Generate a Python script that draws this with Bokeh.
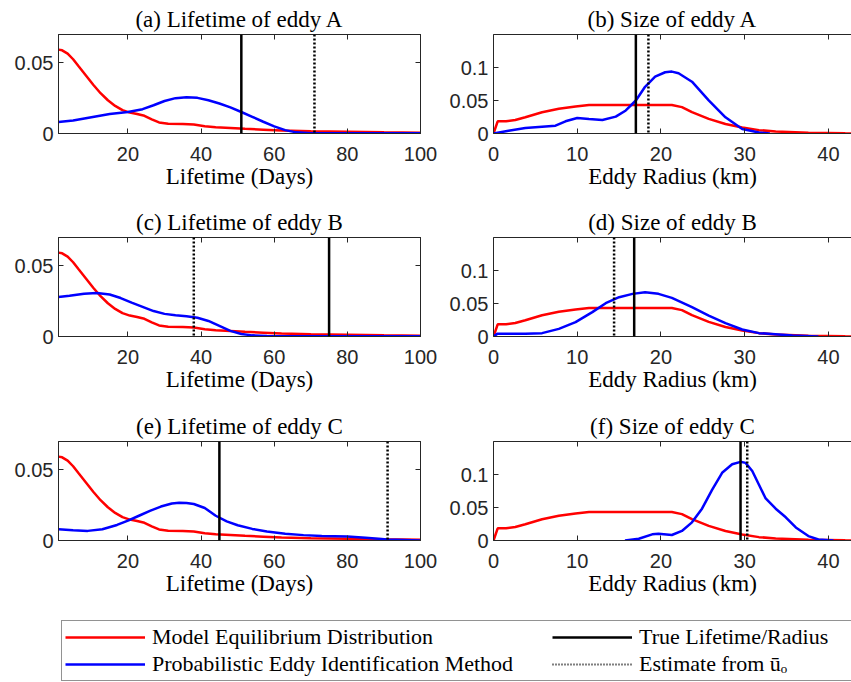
import numpy as np
from bokeh.plotting import figure
from bokeh.layouts import column, row
from bokeh.models import (Range1d, LinearAxis, FixedTicker, Legend, LegendItem,
                          Span, NumeralTickFormatter)
from bokeh.embed import file_html
from bokeh.resources import INLINE

# ---------------- data ----------------
# Model equilibrium distribution of lifetime (same in a, c, e)
model_life_days = [1, 2, 3.5, 5, 6.5, 8.5, 10.5, 12.5, 14.5, 16.5, 18.5, 20.5, 22.5, 24.5,
                   26.5, 28.5, 31, 35, 38, 41, 44, 48, 52, 57, 62, 70, 80, 90, 100]
model_life_pdf = [0.0593, 0.0588, 0.0565, 0.0525, 0.0475, 0.0410, 0.0345, 0.0285, 0.0235,
                  0.0195, 0.0165, 0.0148, 0.0138, 0.0125, 0.0100, 0.0078, 0.0069, 0.0067,
                  0.0063, 0.0052, 0.0045, 0.0039, 0.0033, 0.0027, 0.0021, 0.0016, 0.0012,
                  0.0008, 0.0005]

# Probabilistic eddy identification: lifetime
pei_life_A_days = [1, 5, 10, 15, 20, 24, 27, 30, 33, 36, 39, 42, 45, 48, 51, 54, 57, 60, 63,
                   66, 70, 80, 100]
pei_life_A_pdf = [0.0081, 0.0092, 0.0115, 0.0138, 0.0152, 0.0172, 0.0200, 0.0230, 0.0250,
                  0.0257, 0.0252, 0.0235, 0.0212, 0.0185, 0.0152, 0.0118, 0.0083, 0.0050,
                  0.0024, 0.0008, 0.0002, 0.0001, 0.0001]
pei_life_B_days = [1, 4, 8, 11.5, 15, 18, 21, 24, 27, 30, 33, 36, 39, 42, 45, 48, 51, 54, 58,
                   65, 100]
pei_life_B_pdf = [0.0279, 0.0288, 0.0302, 0.0307, 0.0297, 0.0272, 0.0240, 0.0210, 0.0180,
                  0.0160, 0.0150, 0.0143, 0.0133, 0.0110, 0.0075, 0.0040, 0.0018, 0.0008,
                  0.0004, 0.0002, 0.0002]
pei_life_C_days = [1, 5, 9, 13, 17, 20, 23, 26, 29, 32, 34, 36, 38, 41, 44, 47, 50, 54, 58,
                   63, 68, 73, 80, 85, 91, 100]
pei_life_C_pdf = [0.0079, 0.0072, 0.0068, 0.0080, 0.0110, 0.0140, 0.0175, 0.0210, 0.0240,
                  0.0262, 0.0267, 0.0265, 0.0258, 0.0230, 0.0175, 0.0135, 0.0108, 0.0082,
                  0.0063, 0.0048, 0.0038, 0.0032, 0.0029, 0.0019, 0.0007, 0.0]

# Model equilibrium distribution of radius (same in b, d, f)
model_rad_km = [0, 0.5, 1.5, 2.6, 3.8, 5.8, 7.8, 9.8, 11.4, 13, 16, 19, 21.3, 22.5, 23.7,
                25.7, 27.7, 29.7, 31.7, 33.7, 37.6, 42, 45]
model_rad_pdf = [0, 0.0185, 0.0185, 0.0205, 0.0246, 0.0323, 0.0374, 0.0410, 0.0431, 0.0432,
                 0.0432, 0.0432, 0.0431, 0.0400, 0.0323, 0.0221, 0.0144, 0.0092, 0.0051,
                 0.0031, 0.0010, 0.0002, 0]

# Probabilistic eddy identification: radius
pei_rad_A_km = [0, 1.8, 3.8, 5.8, 7.4, 8.6, 10, 11.4, 13, 14.6, 15.8, 17, 18.1, 19.3, 20.5,
                21.3, 22.1, 23.7, 25.7, 27.7, 29.7, 31.7, 33]
pei_rad_A_pdf = [0, 0.0041, 0.0082, 0.0103, 0.0118, 0.0185, 0.0236, 0.0221, 0.0205, 0.0256,
                 0.0349, 0.0500, 0.0708, 0.0862, 0.0928, 0.0938, 0.0913, 0.0785, 0.0503,
                 0.0246, 0.0067, 0.0015, 0]
pei_rad_B_km = [0, 0.44, 2.2, 3.8, 5.8, 7.8, 9.8, 11.8, 13.4, 15, 16.6, 18.1, 19.7, 21.3,
                23.7, 25.7, 27.7, 29.7, 31.7, 35.7, 38.8]
pei_rad_B_pdf = [0, 0.0040, 0.0040, 0.0040, 0.0051, 0.0116, 0.0217, 0.0369, 0.0505, 0.0596,
                 0.0646, 0.0672, 0.0646, 0.0586, 0.0444, 0.0318, 0.0202, 0.0106, 0.0051,
                 0.0015, 0]
pei_rad_C_km = [15.7, 17.35, 18.95, 19.7, 21.3, 22.5, 23.7, 24.9, 26.1, 27.3, 28.5, 29.5,
                30.1, 30.9, 31.7, 32.5, 33.7, 34.9, 36.1, 37.6, 38.8, 40.6]
pei_rad_C_pdf = [0, 0.0026, 0.0093, 0.0104, 0.0083, 0.0145, 0.0275, 0.0482, 0.0767, 0.1026,
                 0.1155, 0.1192, 0.1176, 0.1052, 0.0845, 0.0637, 0.0482, 0.0352, 0.0197,
                 0.0067, 0.0016, 0]

true_life = [51, 75, 45]
est_life = [71, 38, 91]
true_rad = [17, 16.8, 29.5]
est_rad = [18.5, 14.4, 30.3]

life_titles = ["(a) Lifetime of eddy A", "(c) Lifetime of eddy B", "(e) Lifetime of eddy C"]
rad_titles = ["(b) Size of eddy A", "(d) Size of eddy B", "(f) Size of eddy C"]
life_xticks = [20, 40, 60, 80, 100]
life_yticks = [0, 0.05]
rad_xticks = [0, 10, 20, 30, 40]
rad_yticks = [0, 0.05, 0.1]
legend_labels = ["Model Equilibrium Distribution", "Probabilistic Eddy Identification Method",
                 "True Lifetime/Radius", "Estimate from \u016b\u2092"]

pei_life = [(pei_life_A_days, pei_life_A_pdf), (pei_life_B_days, pei_life_B_pdf),
            (pei_life_C_days, pei_life_C_pdf)]
pei_rad = [(pei_rad_A_km, pei_rad_A_pdf), (pei_rad_B_km, pei_rad_B_pdf),
           (pei_rad_C_km, pei_rad_C_pdf)]

# ---------------- styling ----------------
AX = "#262626"
RED = "#ff0000"
BLUE = "#0000ff"
SERIF = "Liberation Serif"
SANS = "Liberation Sans"
ROW_HEIGHTS = [203, 204, 203]
TOP = 34
FRAME_H = 99


def style_axis(ax, labels=True):
    ax.axis_line_color = AX
    ax.axis_line_width = 1
    ax.major_tick_line_color = AX
    ax.major_tick_in = 5
    ax.major_tick_out = 0
    ax.minor_tick_line_color = None
    if labels:
        ax.major_label_text_font = SANS
        ax.major_label_text_font_size = "20px"
        ax.major_label_text_color = AX
    else:
        ax.major_label_text_color = None
        ax.major_label_text_font_size = "1px"
        ax.major_label_standoff = 0


def make_panel(title, xlabel, xr, yr, xticks, yticks, left_border, right_border, width,
               height, boxed):
    p = figure(width=width, height=height, x_range=Range1d(*xr), y_range=Range1d(*yr),
               output_backend="svg", toolbar_location=None,
               min_border_left=left_border, min_border_right=right_border,
               min_border_top=TOP, min_border_bottom=height - TOP - FRAME_H)
    p.grid.visible = False
    p.background_fill_color = "white"
    p.border_fill_color = "white"
    p.outline_line_color = AX if boxed else None
    p.title.text = title
    p.title.text_font = SERIF
    p.title.text_font_size = "23px"
    p.title.text_font_style = "normal"
    p.title.text_color = "black"
    p.title.align = "center"
    p.title.standoff = 5
    p.title.offset = 0

    p.xaxis.ticker = FixedTicker(ticks=xticks)
    p.yaxis.ticker = FixedTicker(ticks=yticks)
    p.yaxis.formatter = NumeralTickFormatter(format="0.[00]")
    style_axis(p.xaxis[0])
    style_axis(p.yaxis[0])
    p.xaxis.major_label_standoff = 13
    p.yaxis.major_label_standoff = 5
    p.xaxis.axis_label = xlabel
    p.xaxis.axis_label_text_font = SERIF
    p.xaxis.axis_label_text_font_size = "23px"
    p.xaxis.axis_label_text_font_style = "normal"
    p.xaxis.axis_label_text_color = "black"
    p.xaxis.axis_label_standoff = 0

    top = LinearAxis(ticker=FixedTicker(ticks=xticks))
    style_axis(top, labels=False)
    p.add_layout(top, "above")
    if boxed:
        right = LinearAxis(ticker=FixedTicker(ticks=yticks))
        style_axis(right, labels=False)
        p.add_layout(right, "right")
    return p


rows = []
for i in range(3):
    h = ROW_HEIGHTS[i]
    pl = make_panel(life_titles[i], "Lifetime (Days)", (1, 100), (0, 0.07), life_xticks,
                    life_yticks, 58, 22, 442, h, True)
    pl.line(model_life_days, model_life_pdf, line_color=RED, line_width=2.5)
    pl.line(pei_life[i][0], pei_life[i][1], line_color=BLUE, line_width=2.5)
    pl.add_layout(Span(location=true_life[i], dimension="height", line_color="black",
                       line_width=2.5))
    pl.add_layout(Span(location=est_life[i], dimension="height", line_color="black",
                       line_width=2.5, line_dash="2 2"))

    pr = make_panel(rad_titles[i], "Eddy Radius (km)", (0, 42.75), (0, 0.15), rad_xticks,
                    rad_yticks, 51, 0, 409, h, False)
    pr.line(model_rad_km, model_rad_pdf, line_color=RED, line_width=2.5)
    pr.line(pei_rad[i][0], pei_rad[i][1], line_color=BLUE, line_width=2.5)
    pr.add_layout(Span(location=true_rad[i], dimension="height", line_color="black",
                       line_width=2.5))
    pr.add_layout(Span(location=est_rad[i], dimension="height", line_color="black",
                       line_width=2.5, line_dash="2 2"))
    rows.append(row(pl, pr))

# ---------------- legend ----------------
lf = figure(width=851, height=72, x_range=Range1d(0, 1), y_range=Range1d(0, 1),
            x_axis_type=None, y_axis_type=None, output_backend="svg",
            toolbar_location=None, min_border_left=51, min_border_right=0,
            min_border_top=0, min_border_bottom=0, outline_line_color=None)
lf.grid.visible = False
nan = [np.nan]
r_model = lf.line(x=nan, y=nan, line_color=RED, line_width=2.5)
r_pei = lf.line(x=nan, y=nan, line_color=BLUE, line_width=2.5)
r_true = lf.line(x=nan, y=nan, line_color="black", line_width=2.5)
r_est = lf.line(x=nan, y=nan, line_color="black", line_width=2, line_dash="1 2")
leg = Legend(items=[
    LegendItem(label=legend_labels[0], renderers=[r_model]),
    LegendItem(label=legend_labels[1], renderers=[r_pei]),
    LegendItem(label=legend_labels[2], renderers=[r_true]),
    LegendItem(label=legend_labels[3], renderers=[r_est]),
], location="top_left", orientation="vertical", nrows=2)
leg.margin = 10
leg.padding = 3
leg.spacing = 1
leg.glyph_width = 80
leg.glyph_height = 20
leg.label_height = 20
leg.label_width = 399
leg.label_standoff = 7
leg.label_text_font = SERIF
leg.label_text_font_size = "22px"
leg.label_text_color = "black"
leg.border_line_color = AX
leg.border_line_width = 1
leg.background_fill_alpha = 1
lf.add_layout(leg)

layout = column(*rows, lf)
open("out.html", "w").write(file_html(layout, INLINE))
